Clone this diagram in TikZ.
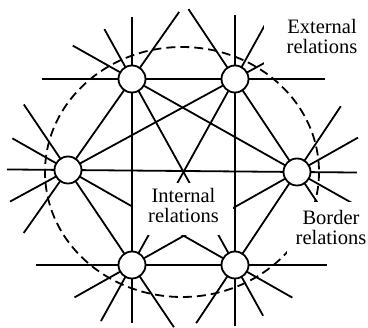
\documentclass[tikz,border=0pt]{standalone}
\usepackage{fontspec}
\setmainfont{Liberation Serif}
\usetikzlibrary{calc,backgrounds}
\begin{document}
\begin{tikzpicture}
[
x=1pt, y=-1pt,
Site/.style={circle, draw=black, fill=white, line width=1.8pt, minimum size=27pt, inner sep=0pt},
Relation/.style={-, draw=black, line width=1.8pt},
Boundary/.style={draw=black, line width=1.8pt, dash pattern=on 9pt off 5pt},
Cover/.style={rectangle, fill=white, inner sep=0pt},
Label/.style={align=center, inner sep=0pt, font=\fontsize{20.5}{20}\selectfont}
]
\useasboundingbox (0,0) rectangle (368,328);

\node[Site] (A) at (132,79)  {};
\node[Site] (B) at (235,79)  {};
\node[Site] (C) at (68,170)  {};
\node[Site] (D) at (297,172) {};
\node[Site] (E) at (132,265) {};
\node[Site] (F) at (235,265) {};

\begin{scope}[on background layer]
% every pair is linked, each line runs on past both sites
\draw[Relation] ($(A)!-90pt!(B)$) -- ($(B)!-90pt!(A)$);
\draw[Relation] ($(C)!-61pt!(D)$) -- ($(D)!-60pt!(C)$);
\draw[Relation] ($(E)!-96pt!(F)$) -- ($(F)!-92pt!(E)$);
\draw[Relation] ($(A)!-62pt!(E)$) -- ($(E)!-58pt!(A)$);
\draw[Relation] ($(B)!-64pt!(F)$) -- ($(F)!-61pt!(B)$);
\draw[Relation] ($(A)!-57pt!(F)$) -- ($(F)!-58pt!(A)$);
\draw[Relation] ($(B)!-66pt!(E)$) -- ($(E)!-64pt!(B)$);
\draw[Relation] ($(A)!-68pt!(D)$) -- ($(D)!-75pt!(A)$);
\draw[Relation] ($(B)!-60pt!(C)$) -- ($(C)!-66pt!(B)$);
\draw[Relation] ($(A)!-82pt!(C)$) -- ($(C)!-77pt!(A)$);
\draw[Relation] ($(B)!-84pt!(D)$) -- ($(D)!-70pt!(B)$);
\draw[Relation] ($(C)!-79pt!(E)$) -- ($(E)!-75pt!(C)$);
\draw[Relation] ($(C)!-64pt!(F)$) -- ($(F)!-66pt!(C)$);
\draw[Relation] ($(D)!-70pt!(E)$) -- ($(E)!-66pt!(D)$);
\draw[Relation] ($(D)!-79pt!(F)$) -- ($(F)!-70pt!(D)$);

\draw[Boundary] (182,172) ellipse [x radius=137, y radius=125];
\end{scope}

\node[Cover, minimum width=100pt, minimum height=52pt] (InBox)  at (183,209) {};
\node[Cover, minimum width=116pt, minimum height=60pt] (ExBox)  at (322,36)  {};
\node[Cover, minimum width=88pt,  minimum height=57pt] (BoBox)  at (331,231) {};

\node[Label] (Internal) at (183.5,205) {Internal\\relations};
\node[Label] (External) at (322,36)    {External\\relations};
\node[Label] (Border)   at (331,227)   {Border\\relations};
\end{tikzpicture}
\end{document}
